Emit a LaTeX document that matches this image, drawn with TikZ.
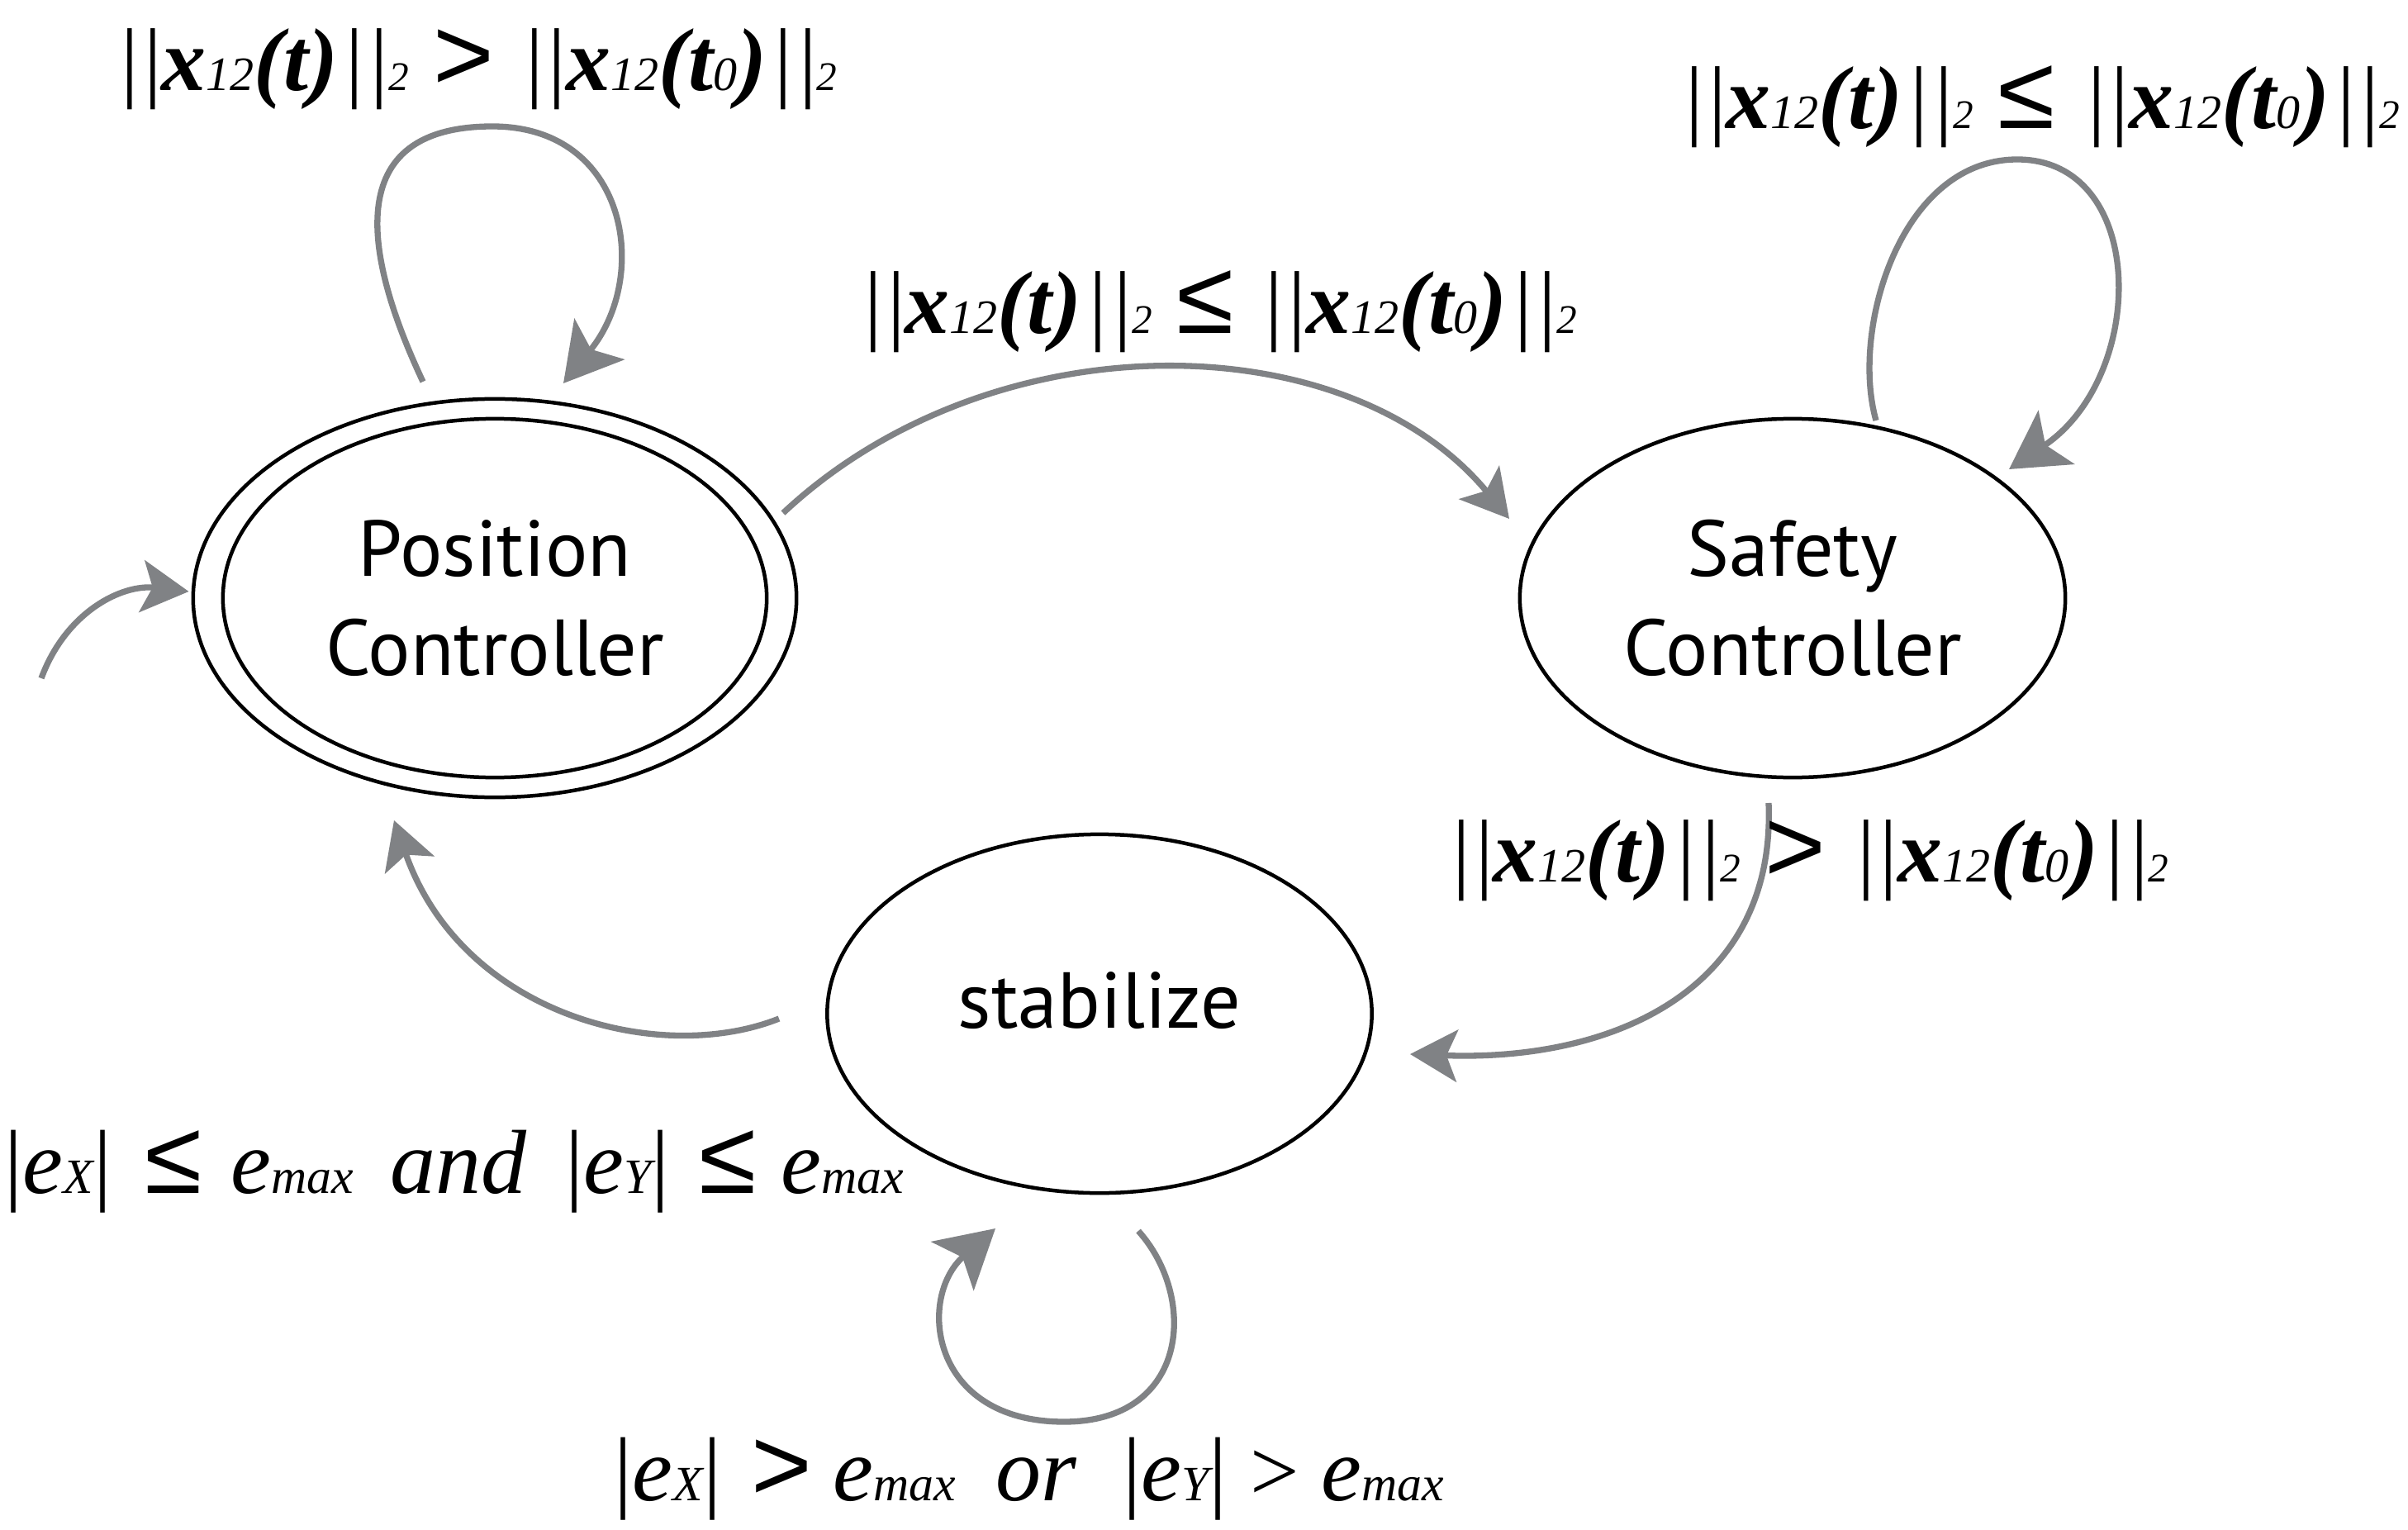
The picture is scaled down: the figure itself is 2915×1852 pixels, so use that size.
\documentclass[tikz,border=0pt]{standalone}
\usepackage{fontspec}
\usetikzlibrary{arrows.meta,shapes.geometric}
\setmainfont{PT Sans}
\newfontfamily\tms{Liberation Serif}
\newfontfamily\lsans{Liberation Sans}
\newfontfamily\nodefnt{PT Sans}
\newdimen\pxu \pxu=0.01cm
\definecolor{arrgray}{RGB}{128,130,133}
\newcommand\lbsz{\fontsize{30.7}{36}\selectfont}
\newcommand\lbsub{\fontsize{16.5}{18}\selectfont}
\newcommand\lbsubb{\fontsize{14}{16}\selectfont}
\newcommand\relsz{\fontsize{35.9}{40}\selectfont}
\newcommand\esz{\fontsize{31.3}{36}\selectfont}
\newcommand\esub{\fontsize{17}{20}\selectfont}
\newcommand\xtwelve[1]{{\bfseries\itshape x}{\itshape\lbsub 12}{\bfseries\itshape (t{\mdseries\itshape\lbsub #1})}}
\newcommand\nrmx[1]{|\kern6\pxu|\xtwelve{#1}\kern9\pxu|\kern8\pxu|{\itshape\lbsubb 2}}
\newcommand\mygt{{\lsans\relsz >}}
\newcommand\myle{{\lsans\relsz ≤}}
\newcommand\ee[1]{{\itshape e}{\itshape\esub #1}}
\tikzset{
  state/.style={ellipse, draw=black, line width=0.045cm, inner sep=0pt,
    minimum width=6.6cm, minimum height=4.34cm,
    font=\nodefnt\fontsize{27.3}{34.1}\selectfont, align=center},
  arr/.style={draw=arrgray, line width=0.073cm},
  tipS/.style={-{Stealth[length=0.57cm,width=0.63cm,inset=0.13cm]}},
  tipL/.style={-{Stealth[length=0.69cm,width=0.78cm,inset=0.16cm]}},
  lab/.style={anchor=base west, inner sep=0pt, font=\tms\lbsz},
  elab/.style={anchor=base west, inner sep=0pt, font=\tms\esz},
}
\begin{document}
\begin{tikzpicture}[x=0.01cm,y=-0.01cm]
\useasboundingbox (0,0) rectangle (2915,1852);
% states
\node[state, minimum width=7.3cm, minimum height=4.82cm] (pc) at (599,724) {Position\\Controller};
\draw[line width=0.045cm] (pc.center) ellipse [x radius=3.29cm, y radius=2.17cm];
\node[state] (sc) at (2170,724) {Safety\\Controller};
\node[state, minimum width=6.59cm, text height=0.71cm, text depth=0.36cm] (st) at (1331,1227) {stabilize};
% initial arrow
\coordinate (init) at (50,821);
\draw[arr, tipS] (init) .. controls (80,740) and (148,707) .. ([shift={(-3,-8)}]pc.west);
% PC loop
\draw[arr, tipL] ([shift={(-87,-262)}]pc.center) .. controls (450,330) and (400,153) .. (596,153)
   .. controls (760,153) and (788,334) .. ([shift={(83,-260)}]pc.center);
% PC -> SC
\draw[arr, tipS] ([shift={(349,-103)}]pc.center) .. controls (1200,385) and (1630,390) .. ([shift={(-343,-96)}]sc.center);
% SC loop
\draw[arr, tipL] ([shift={(101,-215)}]sc.center) .. controls (2240,400) and (2300,193) .. (2442,193)
   .. controls (2600,193) and (2600,455) .. ([shift={(262,-156)}]sc.center);
% SC -> ST
\draw[arr, tipS] ([shift={(-29,248)}]sc.center) .. controls (2150,1200) and (1950,1285) .. ([shift={(376,49)}]st.center);
% ST -> PC
\draw[arr, tipS] ([shift={(-388,6)}]st.center) .. controls (800,1290) and (560,1230) .. ([shift={(-122,269)}]pc.center);
% ST loop
\draw[arr, tipL] ([shift={(47,263)}]st.center) .. controls (1450,1570) and (1440,1721) .. (1288,1721)
   .. controls (1125,1721) and (1110,1570) .. ([shift={(-126,260)}]st.center);
% labels
\node[lab] (lA) at (146,110) {\nrmx{}\kern30\pxu\mygt\kern38\pxu\nrmx{0}};
\node[lab] (lB) at (1046,403) {\nrmx{}\kern30\pxu\myle\kern38\pxu\nrmx{0}};
\node[lab] (lC) at (2040,156) {\nrmx{}\kern30\pxu\myle\kern40\pxu\nrmx{0}};
\node[lab] (lD) at (1758,1067) {\nrmx{}\kern30\pxu\mygt\kern38\pxu\nrmx{0}};
\node[elab] (lE) at (5,1444) {|\ee{X}|\kern40\pxu\myle\kern35\pxu\ee{max}\kern45\pxu\textit{and}\kern46\pxu|\ee{Y}|\kern36\pxu\myle\kern30\pxu\ee{max}};
\node[elab] (lF) at (743,1816) {|\ee{X}|\kern36\pxu\mygt\kern26\pxu\ee{max}\kern48\pxu\textit{or}\kern56\pxu|\ee{Y}|\kern28\pxu{\fontsize{30}{34}\selectfont >}\kern26\pxu\ee{max}};
\end{tikzpicture}
\end{document}
